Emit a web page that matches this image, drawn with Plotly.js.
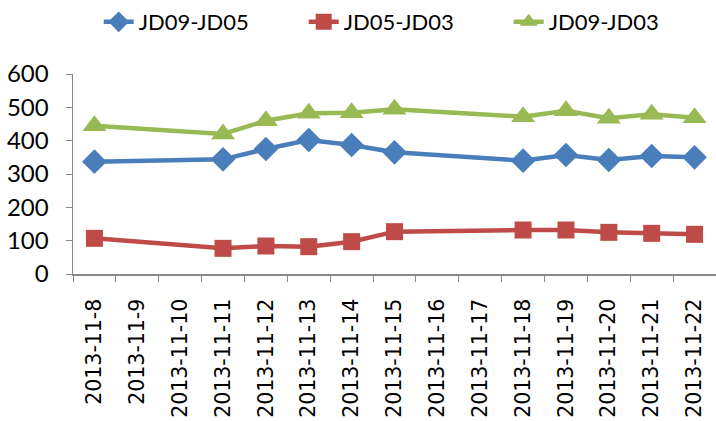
<!DOCTYPE html>
<html><head><meta charset="utf-8">
<script src="https://cdn.plot.ly/plotly-3.0.1.min.js"></script>
<style>html,body{margin:0;padding:0;background:#fff}#chart{width:716px;height:421px}</style>
</head><body><div id="chart"></div>
<script>
const categories = ["2013-11-8","2013-11-9","2013-11-10","2013-11-11","2013-11-12","2013-11-13","2013-11-14","2013-11-15","2013-11-16","2013-11-17","2013-11-18","2013-11-19","2013-11-20","2013-11-21","2013-11-22"];
const tradeDays = ["2013-11-8","2013-11-11","2013-11-12","2013-11-13","2013-11-14","2013-11-15","2013-11-18","2013-11-19","2013-11-20","2013-11-21","2013-11-22"];
const jd09_jd05 = [337,344,375,402,387,365,340,357,342,354,350];
const jd05_jd03 = [107,77,84,82,97,127,132,132,125,122,119];
const jd09_jd03 = [445,420,460,482,484,494,472,490,467,479,469];
const seriesNames = ["JD09-JD05","JD05-JD03","JD09-JD03"];
const colors = ["#4A7EBB","#BE4B48","#98B954"];
const symbols = ["diamond","square","triangle-up"];
const sizes = [19,17,21];
const allValues = [jd09_jd05, jd05_jd03, jd09_jd03];

const traces = allValues.map((vals,i)=>({
  type:"scatter", mode:"lines+markers", name:seriesNames[i],
  x:tradeDays, y:vals,
  line:{color:colors[i], width:4.5},
  marker:{symbol:symbols[i], size:sizes[i], color:colors[i]}
}));

const layout = {
  width:716, height:421,
  margin:{l:73, r:0, t:74, b:147},
  paper_bgcolor:"#fff", plot_bgcolor:"#fff",
  font:{family:"Lato, 'Open Sans', sans-serif", color:"#000", size:20},
  showlegend:true,
  legend:{orientation:"h", x:0.04, xanchor:"left", y:1.26, yanchor:"middle",
          font:{size:22}, entrywidth:160, entrywidthmode:"pixels", tracegroupgap:0},
  xaxis:{
    type:"category", categoryorder:"array", categoryarray:categories,
    range:[-0.5,14.5], tickson:"boundaries", ticks:"outside", ticklen:6, tickcolor:"#888",
    showline:true, linecolor:"#888", linewidth:1.5, showgrid:false, zeroline:false,
    tickangle:-90, tickfont:{size:20.5, family:"'DejaVu Sans', sans-serif"}, ticklabelstandoff:15, fixedrange:true
  },
  yaxis:{
    range:[0,600], dtick:100, tick0:0, ticks:"outside", ticklen:6, tickcolor:"#888",
    showline:true, linecolor:"#888", linewidth:1.5, showgrid:false, zeroline:false,
    tickfont:{size:24}, ticklabelstandoff:12, fixedrange:true
  }
};
Plotly.newPlot("chart", traces, layout, {displayModeBar:false, staticPlot:true});
</script></body></html>
